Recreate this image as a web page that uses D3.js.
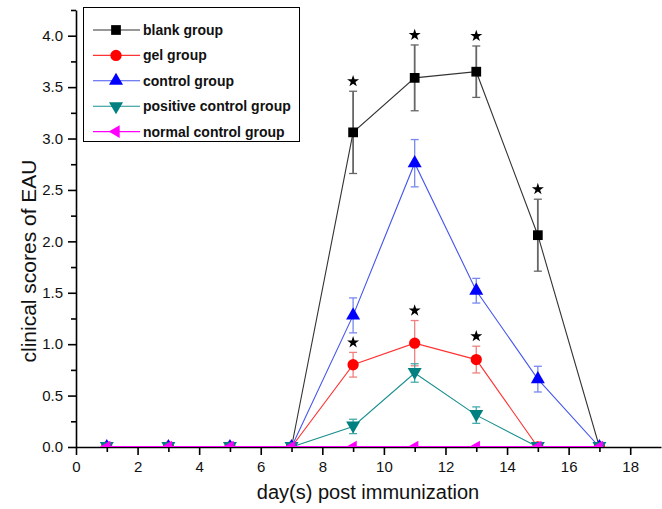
<!DOCTYPE html>
<html><head><meta charset="utf-8">
<script src="https://cdn.jsdelivr.net/npm/d3@7"></script>
<style>body{margin:0;background:#fff}svg{display:block;font-family:"Liberation Sans",Arial,sans-serif}</style>
</head><body><svg id="c" width="662" height="509"></svg>
<script>
const days = [1,3,5,7,9,11,13,15,17];
const blank = [0,0,0,0,3.06,3.59,3.65,2.06,0];
const blankErr = [0,0,0,0,0.40,0.32,0.25,0.35,0];
const gel = [0,0,0,0,0.80,1.01,0.85,0,0];
const gelErr = [0,0,0,0,0.12,0.22,0.13,0,0];
const control = [0,0,0,0,1.28,2.76,1.52,0.66,0];
const controlErr = [0,0,0,0,0.17,0.23,0.12,0.125,0];
const positive = [0,0,0,0,0.20,0.72,0.31,0,0];
const positiveErr = [0,0,0,0,0.07,0.09,0.08,0,0];
const normal = [0,0,0,0,0,0,0,0,0];
const normalErr = [0,0,0,0,0,0,0,0,0];
const seriesNames = ["blank group","gel group","control group","positive control group","normal control group"];
const blankStars = [9,11,13,15];
const gelStars = [9,11,13];
const yTicks = [0,0.5,1.0,1.5,2.0,2.5,3.0,3.5,4.0];
const xTicks = [0,2,4,6,8,10,12,14,16,18];

const svg = d3.select("#c");
const L=76, R=661, T=10, B=447;
const x = d3.scaleLinear().domain([0,19]).range([L,R]);
const y = d3.scaleLinear().domain([0,4.25]).range([B,T]);

svg.append("defs").append("clipPath").attr("id","clip")
  .append("rect").attr("x",L).attr("y",T-10).attr("width",R-L+2).attr("height",B-T+10);

// axes
const xAx = svg.append("g").attr("transform",`translate(0,${B})`)
  .call(d3.axisBottom(x).tickValues(xTicks).tickFormat(d3.format("d")).tickSize(8).tickSizeOuter(0));
svg.append("g").attr("transform",`translate(0,${B})`)
  .call(d3.axisBottom(x).tickValues(d3.range(1,19,2)).tickFormat("").tickSize(5).tickSizeOuter(0))
  .select(".domain").remove();
const yAx = svg.append("g").attr("transform",`translate(${L},0)`)
  .call(d3.axisLeft(y).tickValues(yTicks).tickFormat(d3.format(".1f")).tickSize(8).tickSizeOuter(0));
svg.append("g").attr("transform",`translate(${L},0)`)
  .call(d3.axisLeft(y).tickValues([0.25,0.75,1.25,1.75,2.25,2.75,3.25,3.75,4.25]).tickFormat("").tickSize(5).tickSizeOuter(0))
  .select(".domain").remove();
svg.selectAll(".domain").attr("stroke","#000").attr("stroke-width",1.6);
svg.selectAll(".tick line").attr("stroke","#000").attr("stroke-width",1.6);
xAx.selectAll("text").attr("font-size",15).attr("fill","#111").attr("dy","1.1em").attr("y",8);
yAx.selectAll("text").attr("font-size",15).attr("fill","#111").attr("x",-13);

svg.append("text").attr("x",368).attr("y",499).attr("text-anchor","middle")
  .attr("font-size",20).attr("fill","#111").text("day(s) post immunization");
svg.append("text").attr("transform","translate(36,261) rotate(-90)").attr("text-anchor","middle")
  .attr("font-size",21).attr("fill","#111").text("clinical scores of EAU");

const series = [
  {name:seriesNames[0], v:blank, e:blankErr, color:"#000", line:"#333", err:"#666", sym:d3.symbolSquare, size:95, rot:0},
  {name:seriesNames[1], v:gel, e:gelErr, color:"#ff0000", line:"#ff3333", err:"#f08080", sym:d3.symbolCircle, size:100, rot:0},
  {name:seriesNames[2], v:control, e:controlErr, color:"#0000ff", line:"#4455ee", err:"#7788ee", sym:d3.symbolTriangle, size:85, rot:0},
  {name:seriesNames[3], v:positive, e:positiveErr, color:"#008080", line:"#1a8f8f", err:"#4aa", sym:d3.symbolTriangle, size:85, rot:180},
  {name:seriesNames[4], v:normal, e:normalErr, color:"#ff00ff", line:"#ff00ff", err:"#ff00ff", sym:d3.symbolTriangle, size:70, rot:-90}
];

const plot = svg.append("g").attr("clip-path","url(#clip)");
series.forEach((s,si)=>{
  const g = plot.append("g");
  const pts = days.map((d,i)=>({d, v:s.v[i], e:s.e[i]}));
  pts.filter(p=>p.e>0).forEach(p=>{
    const cx=x(p.d);
    g.append("line").attr("x1",cx).attr("x2",cx).attr("y1",y(p.v+p.e)).attr("y2",y(p.v-p.e))
      .attr("stroke",s.err).attr("stroke-width",si===0?1.8:1.3);
    [p.v+p.e,p.v-p.e].forEach(vv=>g.append("line").attr("x1",cx-4).attr("x2",cx+4)
      .attr("y1",y(vv)).attr("y2",y(vv)).attr("stroke",s.err).attr("stroke-width",1.3));
  });
  g.append("path").datum(pts)
    .attr("d",d3.line().x(p=>x(p.d)).y(p=>y(p.v)))
    .attr("fill","none").attr("stroke",s.line).attr("stroke-width",si===4?2.2:1.1);
  g.selectAll("path.m").data(pts).join("path").attr("class","m")
    .attr("d",d3.symbol(s.sym,s.size))
    .attr("transform",p=>`translate(${x(p.d)},${y(p.v)+(s.rot===180?-1:0)}) rotate(${s.rot})`)
    .attr("fill",s.color);
});

const star = d3.symbol(d3.symbolStar,45);
blankStars.forEach(d=>{const i=days.indexOf(d);
  svg.append("path").attr("d",star).attr("fill","#000")
    .attr("transform",`translate(${x(d)},${y(blank[i]+blankErr[i])-10})`);});
gelStars.forEach(d=>{const i=days.indexOf(d);
  svg.append("path").attr("d",star).attr("fill","#000")
    .attr("transform",`translate(${x(d)},${y(gel[i]+gelErr[i])-10})`);});

const lg = svg.append("g");
lg.append("rect").attr("x",83.5).attr("y",7.5).attr("width",216).attr("height",134)
  .attr("fill","#fff").attr("stroke","#000").attr("stroke-width",1);
series.forEach((s,i)=>{
  const yy = 30 + i*25.4;
  lg.append("line").attr("x1",93).attr("x2",140).attr("y1",yy).attr("y2",yy).attr("stroke",s.line).attr("stroke-width",1.1);
  lg.append("path").attr("d",d3.symbol(s.sym,s.size)).attr("fill",s.color)
    .attr("transform",`translate(116,${yy}) rotate(${s.rot})`);
  lg.append("text").attr("x",143).attr("y",yy).attr("dy","0.35em").attr("font-size",14)
    .attr("font-weight","bold").attr("fill","#111").text(s.name);
});
</script></body></html>
